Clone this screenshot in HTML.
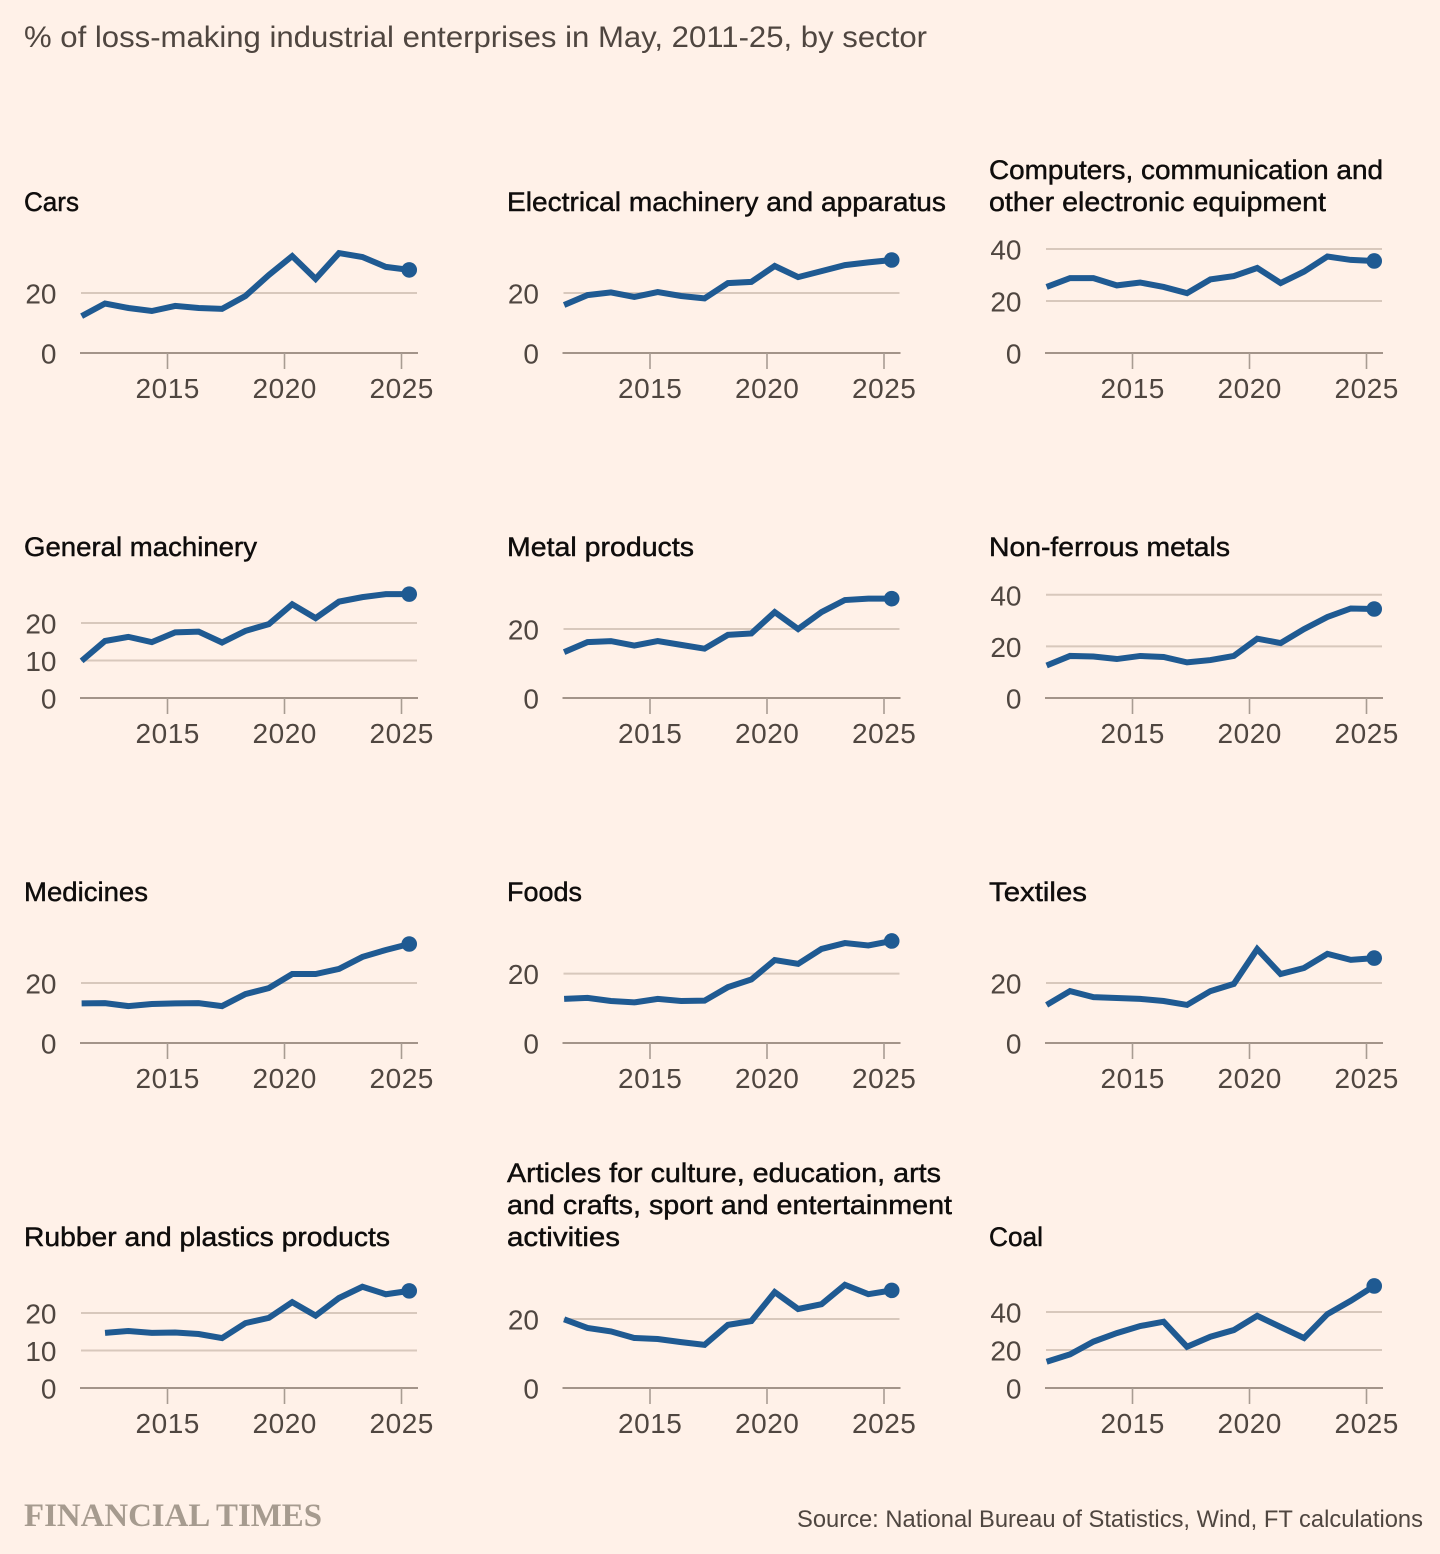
<!DOCTYPE html>
<html lang="en">
<head>
<meta charset="utf-8">
<title>Loss-making industrial enterprises by sector</title>
<style>
  html, body { margin: 0; padding: 0; background: #fff1e8; }
  svg { display: block; }
  .title { font-family: "Liberation Sans", sans-serif; font-size: 26.5px; fill: #0f0d0c; stroke: #0f0d0c; stroke-width: 0.45px; }
  .sub { font-family: "Liberation Sans", sans-serif; font-size: 30px; fill: #4f4640; }
  .src { font-family: "Liberation Sans", sans-serif; font-size: 24.5px; fill: #4f4640; }
  .brand { font-family: "Liberation Serif", serif; font-size: 33px; font-weight: bold; fill: #a69b8f; }
  .tick { font-family: "Liberation Sans", sans-serif; font-size: 28px; fill: #4f4640; }
</style>
</head>
<body>
<svg id="chart" width="1440" height="1554" viewBox="0 0 1440 1554" xmlns="http://www.w3.org/2000/svg">
  <rect width="1440" height="1554" fill="#fff1e8"/>
  <text class="sub" x="24" y="47" textLength="903" lengthAdjust="spacingAndGlyphs">% of loss-making industrial enterprises in May, 2011-25, by sector</text>

  <text class="title" x="24" y="211" textLength="55" lengthAdjust="spacingAndGlyphs">Cars</text>
  <text class="title" x="507" y="211" textLength="439" lengthAdjust="spacingAndGlyphs">Electrical machinery and apparatus</text>
  <text class="title" x="989" y="179" textLength="394" lengthAdjust="spacingAndGlyphs">Computers, communication and</text>
  <text class="title" x="989" y="211" textLength="337" lengthAdjust="spacingAndGlyphs">other electronic equipment</text>

  <text class="title" x="24" y="556" textLength="233" lengthAdjust="spacingAndGlyphs">General machinery</text>
  <text class="title" x="507" y="556" textLength="187" lengthAdjust="spacingAndGlyphs">Metal products</text>
  <text class="title" x="989" y="556" textLength="241" lengthAdjust="spacingAndGlyphs">Non-ferrous metals</text>

  <text class="title" x="24" y="901" textLength="124" lengthAdjust="spacingAndGlyphs">Medicines</text>
  <text class="title" x="507" y="901" textLength="75" lengthAdjust="spacingAndGlyphs">Foods</text>
  <text class="title" x="989" y="901" textLength="98" lengthAdjust="spacingAndGlyphs">Textiles</text>

  <text class="title" x="24" y="1246" textLength="366" lengthAdjust="spacingAndGlyphs">Rubber and plastics products</text>
  <text class="title" x="507" y="1182" textLength="434" lengthAdjust="spacingAndGlyphs">Articles for culture, education, arts</text>
  <text class="title" x="507" y="1214" textLength="445" lengthAdjust="spacingAndGlyphs">and crafts, sport and entertainment</text>
  <text class="title" x="507" y="1246" textLength="113" lengthAdjust="spacingAndGlyphs">activities</text>
  <text class="title" x="989" y="1246" textLength="54" lengthAdjust="spacingAndGlyphs">Coal</text>

  <g id="panels"></g>

  <text class="brand" x="24" y="1526" textLength="298" lengthAdjust="spacingAndGlyphs">FINANCIAL TIMES</text>
  <text class="src" x="797" y="1527" textLength="626" lengthAdjust="spacingAndGlyphs">Source: National Bureau of Statistics, Wind, FT calculations</text>
</svg>

<script>
// Data
const years = [2011, 2012, 2013, 2014, 2015, 2016, 2017, 2018, 2019, 2020, 2021, 2022, 2023, 2024, 2025];
const xTickLabels = [2015, 2020, 2025];

const carsValues = [12.3, 16.5, 15, 14, 15.7, 15, 14.7, 19, 26, 32.3, 24.7, 33.3, 32, 28.7, 27.7];
const electricalValues = [16, 19.3, 20.2, 18.7, 20.3, 19, 18.2, 23.3, 23.7, 29, 25.3, 27.3, 29.3, 30.2, 31];
const computersValues = [25.4, 28.8, 28.8, 26, 27.1, 25.4, 23, 28.3, 29.6, 32.7, 26.9, 31.3, 37.1, 35.8, 35.4];
const generalValues = [9.9, 15.2, 16.3, 14.9, 17.5, 17.7, 14.8, 17.9, 19.7, 25, 21.3, 25.7, 26.9, 27.7, 27.7];
const metalValues = [13.3, 16.2, 16.5, 15.2, 16.5, 15.4, 14.3, 18.3, 18.7, 24.9, 20, 24.9, 28.4, 28.8, 28.8];
const nonFerrousValues = [12.6, 16.3, 16.1, 15.1, 16.3, 15.9, 13.8, 14.7, 16.3, 23, 21.3, 26.7, 31.4, 34.7, 34.5];
const medicinesValues = [13.2, 13.3, 12.3, 13, 13.2, 13.3, 12.3, 16.3, 18.3, 23, 23, 24.7, 28.7, 31, 33];
const foodsValues = [12.7, 13, 12.1, 11.7, 12.7, 12.1, 12.2, 16.1, 18.3, 23.9, 22.8, 27.1, 28.8, 28.1, 29.4];
const textilesValues = [12.7, 17.3, 15.3, 15, 14.7, 14, 12.7, 17.3, 19.7, 31.3, 23, 25, 29.7, 27.7, 28.3];
const rubberValues = [null, 14.7, 15.2, 14.7, 14.8, 14.4, 13.3, 17.3, 18.7, 22.9, 19.3, 24, 27, 25, 25.9];
const articlesValues = [19.9, 17.4, 16.4, 14.5, 14.2, 13.3, 12.5, 18.3, 19.4, 27.8, 22.9, 24.3, 29.9, 27.2, 28.3];
const coalValues = [13.8, 17.7, 24.4, 28.9, 32.6, 34.9, 21.7, 27, 30.5, 38, 32.1, 26.3, 38.9, 45.9, 53.7];

const carsTicks = [0, 20];
const electricalTicks = [0, 20];
const computersTicks = [0, 20, 40];
const generalTicks = [0, 10, 20];
const metalTicks = [0, 20];
const nonFerrousTicks = [0, 20, 40];
const medicinesTicks = [0, 20];
const foodsTicks = [0, 20];
const textilesTicks = [0, 20];
const rubberTicks = [0, 10, 20];
const articlesTicks = [0, 20];
const coalTicks = [0, 20, 40];

// Layout (kept separate from the data)
const SVG_NS = 'http://www.w3.org/2000/svg';
const columnLeft = [81, 563.5, 1046];
const rowBase = [353, 698, 1043, 1388];
const plotWidth = 336;
const pxPerYear = 23.4;
const dataMonthOffset = 0.33;

const panels = [
  { key: 'cars', values: carsValues, ticks: carsTicks, col: 0, row: 0, pxPerUnit: 3 },
  { key: 'electrical', values: electricalValues, ticks: electricalTicks, col: 1, row: 0, pxPerUnit: 3 },
  { key: 'computers', values: computersValues, ticks: computersTicks, col: 2, row: 0, pxPerUnit: 2.6 },
  { key: 'general-machinery', values: generalValues, ticks: generalTicks, col: 0, row: 1, pxPerUnit: 3.75 },
  { key: 'metal-products', values: metalValues, ticks: metalTicks, col: 1, row: 1, pxPerUnit: 3.45 },
  { key: 'non-ferrous-metals', values: nonFerrousValues, ticks: nonFerrousTicks, col: 2, row: 1, pxPerUnit: 2.58 },
  { key: 'medicines', values: medicinesValues, ticks: medicinesTicks, col: 0, row: 2, pxPerUnit: 3 },
  { key: 'foods', values: foodsValues, ticks: foodsTicks, col: 1, row: 2, pxPerUnit: 3.47 },
  { key: 'textiles', values: textilesValues, ticks: textilesTicks, col: 2, row: 2, pxPerUnit: 3 },
  { key: 'rubber-plastics', values: rubberValues, ticks: rubberTicks, col: 0, row: 3, pxPerUnit: 3.75 },
  { key: 'articles', values: articlesValues, ticks: articlesTicks, col: 1, row: 3, pxPerUnit: 3.45 },
  { key: 'coal', values: coalValues, ticks: coalTicks, col: 2, row: 3, pxPerUnit: 1.9 }
];

function make(tag, attrs, parent) {
  const el = document.createElementNS(SVG_NS, tag);
  for (const k in attrs) el.setAttribute(k, attrs[k]);
  parent.appendChild(el);
  return el;
}

const root = document.getElementById('panels');

panels.forEach(function (p) {
  const left = columnLeft[p.col];
  const base = rowBase[p.row];
  const xScale = function (year) { return left + 86.5 + (year - 2015) * pxPerYear; };
  const yScale = function (value) { return base - value * p.pxPerUnit; };

  const g = make('g', {}, root);
  
  

  // Gridlines and y labels
  p.ticks.forEach(function (t) {
    const y = yScale(t);
    if (t !== 0) {
      const grid = make('line', { x1: left, x2: left + plotWidth, y1: y, y2: y, stroke: '#d8c8bc', 'stroke-width': 2 }, g);
      
      
    }
    const label = make('text', { class: 'tick', x: left - 24.5, y: y + 10.5, 'text-anchor': 'end' }, g);
    
    
    label.textContent = String(t);
  });

  // X axis line, ticks, labels
  const axis = make('line', { x1: left - 1, x2: left + plotWidth + 1, y1: base, y2: base, stroke: '#a39489', 'stroke-width': 2 }, g);
  
  

  xTickLabels.forEach(function (yr) {
    const x = xScale(yr);
    const tick = make('line', { x1: x, x2: x, y1: base, y2: base + 16, stroke: '#a89c92', 'stroke-width': 1.6 }, g);
    
    
    const label = make('text', { class: 'tick', x: x + 0.2, y: base + 45, 'text-anchor': 'middle', 'letter-spacing': 0.5 }, g);
    
    
    label.textContent = String(yr);
  });

  // Series line
  const coords = [];
  years.forEach(function (yr, i) {
    const v = p.values[i];
    if (v === null || v === undefined) return;
    coords.push([xScale(yr + dataMonthOffset), yScale(v)]);
  });
  const d = coords.map(function (c, i) { return (i ? 'L' : 'M') + c[0].toFixed(2) + ' ' + c[1].toFixed(2); }).join(' ');
  const line = make('path', { d: d, fill: 'none', stroke: '#1f5a92', 'stroke-width': 6, 'stroke-linejoin': 'miter', 'stroke-miterlimit': 4 }, g);
  
  

  const last = coords[coords.length - 1];
  const dot = make('circle', { cx: last[0], cy: last[1], r: 7.8, fill: '#1f5a92' }, g);
  
  
});
</script>
</body>
</html>
